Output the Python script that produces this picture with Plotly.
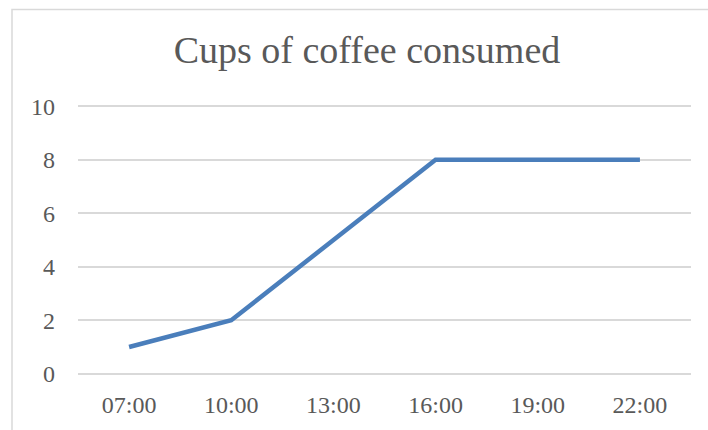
import plotly.graph_objects as go

times = ["07:00", "10:00", "13:00", "16:00", "19:00", "22:00"]
cups = [1, 2, 5, 8, 8, 8]
y_ticks = [0, 2, 4, 6, 8, 10]
title_text = "Cups of coffee consumed"

W, H = 708, 430
unit = 27.0          # pixels per cup
ext = 0.12           # small range extension so the 0 and 10 grid lines show
L, R = 78, 17
T = 106 - ext * unit
B = 54 - ext * unit
pw, ph = W - L - R, H - T - B

def px_x(x):
    return (x - L) / pw

def px_y(y):
    return (H - B - y) / ph

font_family = "Liberation Serif, DejaVu Serif, serif"
grey = "#595959"

fig = go.Figure()
fig.add_trace(go.Scatter(
    x=times, y=cups, mode="lines",
    line=dict(color="#4A7EBB", width=4.5),
    hoverinfo="skip", showlegend=False,
))

fig.update_layout(
    width=W, height=H,
    margin=dict(l=L, r=R, t=T, b=B, pad=0),
    paper_bgcolor="white", plot_bgcolor="white",
    font=dict(family=font_family, color=grey, size=24),
    title=dict(text=title_text, x=367 / W, xanchor="center",
               y=1 - 50 / H, yanchor="middle", yref="container",
               font=dict(family=font_family, size=38, color=grey)),
    xaxis=dict(type="category", range=[-0.5, len(times) - 0.5],
               showgrid=False, zeroline=False, showline=False,
               ticks="", ticklabelstandoff=int(round(14 - ext * unit)),
               tickfont=dict(size=24, color=grey)),
    yaxis=dict(range=[-ext, 10 + ext], tickvals=y_ticks,
               showgrid=True, gridcolor="#D9D9D9",
               gridwidth=1.5, zeroline=False, showline=False, ticks="",
               ticklabelstandoff=22, tickfont=dict(size=24, color=grey)),
    shapes=[dict(type="path", xref="paper", yref="paper",
                 path=f"M {px_x(12)} {px_y(H + 5)} L {px_x(12)} {px_y(8.5)} L {px_x(W + 5)} {px_y(8.5)}",
                 line=dict(color="#D9D9D9", width=1.5), layer="below")],
)

fig.write_html("out.html")
